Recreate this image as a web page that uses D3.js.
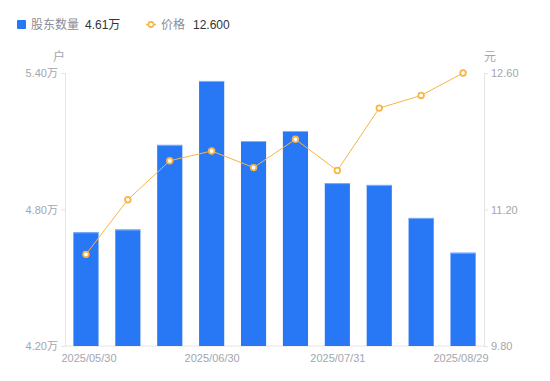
<!DOCTYPE html>
<html>
<head>
<meta charset="utf-8">
<script src="https://cdn.jsdelivr.net/npm/d3@7"></script>
<style>
  body { margin: 0; background: #fff; }
  svg { display: block; font-family: "Liberation Sans", "Noto Sans CJK SC", sans-serif; }
</style>
</head>
<body>
<script>
var dates = ['2025/05/30', '2025/06/10', '2025/06/20', '2025/06/30', '2025/07/10',
             '2025/07/20', '2025/07/31', '2025/08/10', '2025/08/20', '2025/08/29'];
// 股东数量 (万户)
var holders = [4.70, 4.712, 5.084, 5.365, 5.101, 5.145, 4.916, 4.908, 4.763, 4.61];
// 价格 (元)
var prices = [10.74, 11.30, 11.70, 11.80, 11.63, 11.92, 11.60, 12.24, 12.37, 12.60];
var leftTicks = [4.20, 4.80, 5.40];
var rightTicks = [9.80, 11.20, 12.60];
var shownLabels = ['2025/05/30', '2025/06/30', '2025/07/31', '2025/08/29'];

var w = 550, h = 381;
var margin = { top: 73, right: 66, bottom: 35, left: 65 };
var blue = '#2878f5', orange = '#f9b445', grey = '#a3a6ae', axisColor = '#e3e4e8';

var svg = d3.select('body').append('svg')
    .attr('width', w)
    .attr('height', h);

var x = d3.scaleBand()
    .domain(dates)
    .range([margin.left, w - margin.right])
    .paddingInner(0.4)
    .paddingOuter(0.2);

var xCenter = d3.scalePoint()
    .domain(dates)
    .range([margin.left + x.step() / 2, w - margin.right - x.step() / 2]);

var yL = d3.scaleLinear().domain([4.20, 5.40]).range([h - margin.bottom, margin.top]);
var yR = d3.scaleLinear().domain([9.80, 12.60]).range([h - margin.bottom, margin.top]);

// axes
var leftAxis = svg.append('g')
    .attr('transform', 'translate(' + margin.left + ',0)')
    .call(d3.axisLeft(yL).tickValues(leftTicks).tickSize(4).tickPadding(3)
        .tickFormat(function (d) { return d.toFixed(2) + '万'; }));

var rightAxis = svg.append('g')
    .attr('transform', 'translate(' + (w - margin.right) + ',0)')
    .call(d3.axisRight(yR).tickValues(rightTicks).tickSize(4).tickPadding(3)
        .tickFormat(function (d) { return d.toFixed(2); }));

var bottomAxis = svg.append('g')
    .attr('transform', 'translate(0,' + (h - margin.bottom) + ')')
    .call(d3.axisBottom(xCenter).tickValues(shownLabels).tickSize(0).tickPadding(8));

[leftAxis, rightAxis, bottomAxis].forEach(function (g) {
    g.select('.domain').attr('stroke', axisColor);
    g.selectAll('.tick line').attr('stroke', axisColor);
    g.selectAll('.tick text').attr('fill', grey).style('font-size', '11px')
        .style('font-family', '"Liberation Sans", "Noto Sans CJK SC", sans-serif');
});
bottomAxis.select('.domain').attr('d', 'M' + margin.left + ',0H' + (w - margin.right));
bottomAxis.selectAll('.tick text')
    .attr('text-anchor', function (d, i) {
        return i === 0 ? 'start' : (i === shownLabels.length - 1 ? 'end' : 'middle');
    })
    .attr('dx', function (d, i) {
        return i === 0 ? -25 : (i === shownLabels.length - 1 ? 25 : 0);
    });

// unit labels
svg.append('text').attr('x', 59).attr('y', 61).attr('text-anchor', 'middle')
    .attr('fill', grey).style('font-size', '12px').text('户');
svg.append('text').attr('x', 490).attr('y', 61).attr('text-anchor', 'middle')
    .attr('fill', grey).style('font-size', '12px').text('元');

// bars
var bars = svg.selectAll('.bar')
    .data(holders)
    .enter()
    .append('g')
    .attr('class', 'bar');

bars.append('rect')
    .attr('x', function (d, i) { return x(dates[i]); })
    .attr('y', function (d) { return yL(d); })
    .attr('width', x.bandwidth())
    .attr('height', function (d) { return yL(4.20) - yL(d); })
    .attr('fill', blue);

// light top edge on each bar
bars.append('line')
    .attr('x1', function (d, i) { return x(dates[i]); })
    .attr('x2', function (d, i) { return x(dates[i]) + x.bandwidth(); })
    .attr('y1', function (d) { return yL(d) + 0.5; })
    .attr('y2', function (d) { return yL(d) + 0.5; })
    .attr('stroke', '#7fb0fa')
    .attr('stroke-width', 1);

// price line
var line = d3.line()
    .x(function (d, i) { return xCenter(dates[i]); })
    .y(function (d) { return yR(d); });

svg.append('path')
    .datum(prices)
    .attr('d', line)
    .attr('fill', 'none')
    .attr('stroke', orange)
    .attr('stroke-width', 1);

svg.selectAll('.dot')
    .data(prices)
    .enter()
    .append('circle')
    .attr('class', 'dot')
    .attr('cx', function (d, i) { return xCenter(dates[i]); })
    .attr('cy', function (d) { return yR(d); })
    .attr('r', 2.8)
    .attr('fill', '#fff')
    .attr('stroke', orange)
    .attr('stroke-width', 1.8);

// legend
var legend = svg.append('g').style('font-size', '12px');
legend.append('rect').attr('x', 17).attr('y', 20).attr('width', 9).attr('height', 9)
    .attr('rx', 1).attr('fill', blue);
legend.append('text').attr('x', 31).attr('y', 29).attr('fill', '#8a8d96').text('股东数量');
legend.append('text').attr('x', 85).attr('y', 29).attr('fill', '#333').text(holders[holders.length - 1].toFixed(2) + '万');
legend.append('line').attr('x1', 146).attr('x2', 156).attr('y1', 24.5).attr('y2', 24.5)
    .attr('stroke', orange).attr('stroke-width', 1.5);
legend.append('circle').attr('cx', 151).attr('cy', 24.5).attr('r', 2.6)
    .attr('fill', '#fff').attr('stroke', orange).attr('stroke-width', 1.6);
legend.append('text').attr('x', 161).attr('y', 29).attr('fill', '#8a8d96').text('价格');
legend.append('text').attr('x', 193).attr('y', 29).attr('fill', '#333').text(prices[prices.length - 1].toFixed(3));
</script>
</body>
</html>
